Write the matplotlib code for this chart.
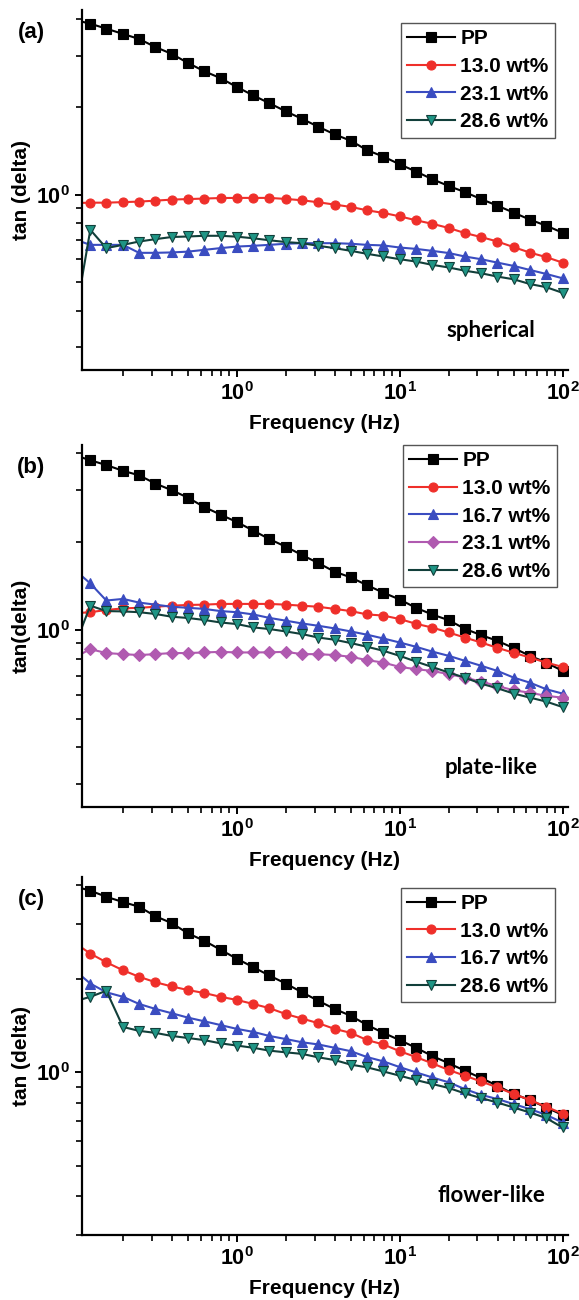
import matplotlib
matplotlib.use('Agg')
import numpy as np
import matplotlib.pyplot as plt
from matplotlib.ticker import LogLocator, NullFormatter, FuncFormatter

plt.rcParams['font.family'] = ['Liberation Sans', 'DejaVu Sans']
plt.rcParams['font.weight'] = 'bold'
plt.rcParams['mathtext.fontset'] = 'custom'
plt.rcParams['mathtext.rm'] = 'Liberation Sans:bold'
plt.rcParams['mathtext.bf'] = 'Liberation Sans:bold'

freq = [0.1, 0.126, 0.158, 0.2, 0.251, 0.316, 0.398, 0.501, 0.631, 0.794,
        1.0, 1.26, 1.58, 2.0, 2.51, 3.16, 3.98, 5.01, 6.31, 7.94,
        10.0, 12.6, 15.8, 20.0, 25.1, 31.6, 39.8, 50.1, 63.1, 79.4, 100.0]

# (a) spherical filler
sph_pp = [3.98, 3.86, 3.71, 3.56, 3.42, 3.21, 3.04, 2.83, 2.65, 2.51, 2.34,
          2.19, 2.06, 1.93, 1.82, 1.71, 1.61, 1.53, 1.42, 1.35, 1.27,
          1.20, 1.13, 1.07, 1.02, 0.965, 0.916, 0.867, 0.820, 0.782, 0.740]
sph_130 = [0.935, 0.938, 0.938, 0.942, 0.946, 0.953, 0.961, 0.965, 0.969, 0.973, 0.974,
           0.974, 0.974, 0.966, 0.956, 0.941, 0.924, 0.907, 0.883, 0.865, 0.842,
           0.816, 0.794, 0.768, 0.738, 0.715, 0.690, 0.660, 0.632, 0.610, 0.584]
sph_231 = [0.703, 0.672, 0.672, 0.672, 0.631, 0.631, 0.633, 0.637, 0.646, 0.655, 0.663,
           0.667, 0.672, 0.678, 0.681, 0.681, 0.681, 0.678, 0.672, 0.669, 0.658,
           0.651, 0.641, 0.630, 0.613, 0.600, 0.584, 0.569, 0.551, 0.534, 0.516]
sph_286 = [0.357, 0.757, 0.655, 0.672, 0.690, 0.703, 0.715, 0.718, 0.722, 0.722, 0.717,
           0.708, 0.697, 0.687, 0.681, 0.667, 0.655, 0.641, 0.626, 0.613, 0.600,
           0.589, 0.574, 0.562, 0.548, 0.537, 0.523, 0.512, 0.493, 0.481, 0.460]

# (b) plate-like filler
pla_pp = [3.94, 3.78, 3.64, 3.48, 3.36, 3.15, 2.99, 2.82, 2.62, 2.47, 2.33,
          2.18, 2.04, 1.92, 1.80, 1.69, 1.58, 1.51, 1.42, 1.34, 1.27,
          1.19, 1.13, 1.08, 1.01, 0.961, 0.919, 0.868, 0.817, 0.775, 0.726]
pla_130 = [1.14, 1.15, 1.17, 1.185, 1.19, 1.20, 1.21, 1.217, 1.22, 1.227, 1.227,
           1.227, 1.227, 1.22, 1.21, 1.20, 1.18, 1.16, 1.13, 1.12, 1.09,
           1.05, 1.02, 0.981, 0.943, 0.907, 0.870, 0.837, 0.806, 0.775, 0.749]
pla_167 = [1.61, 1.44, 1.26, 1.276, 1.24, 1.22, 1.20, 1.19, 1.18, 1.16, 1.15,
           1.13, 1.10, 1.076, 1.053, 1.034, 1.013, 0.989, 0.964, 0.936, 0.907,
           0.877, 0.845, 0.817, 0.786, 0.756, 0.726, 0.689, 0.662, 0.629, 0.608]
pla_231 = [0.805, 0.861, 0.835, 0.828, 0.822, 0.828, 0.835, 0.835, 0.839, 0.843, 0.839,
           0.839, 0.840, 0.843, 0.828, 0.828, 0.822, 0.811, 0.790, 0.775, 0.749,
           0.736, 0.726, 0.708, 0.689, 0.668, 0.645, 0.624, 0.612, 0.597, 0.589]
pla_286 = [0.871, 1.21, 1.16, 1.157, 1.15, 1.134, 1.11, 1.099, 1.082, 1.061, 1.048,
           1.021, 1.008, 0.989, 0.969, 0.943, 0.927, 0.903, 0.877, 0.850, 0.817,
           0.781, 0.749, 0.717, 0.689, 0.657, 0.634, 0.608, 0.589, 0.571, 0.547]

# (c) flower-like filler
flo_pp = [3.97, 3.84, 3.67, 3.53, 3.41, 3.18, 3.02, 2.80, 2.65, 2.48, 2.32,
          2.18, 2.05, 1.93, 1.81, 1.70, 1.60, 1.52, 1.42, 1.34, 1.27,
          1.20, 1.13, 1.07, 1.013, 0.959, 0.906, 0.852, 0.815, 0.771, 0.730]
flo_130 = [2.62, 2.41, 2.26, 2.13, 2.03, 1.95, 1.89, 1.84, 1.80, 1.75, 1.71,
           1.66, 1.61, 1.54, 1.49, 1.44, 1.38, 1.34, 1.27, 1.23, 1.17,
           1.12, 1.07, 1.018, 0.976, 0.935, 0.895, 0.852, 0.815, 0.775, 0.737]
flo_167 = [2.14, 1.93, 1.81, 1.75, 1.66, 1.60, 1.55, 1.50, 1.46, 1.42, 1.38,
           1.35, 1.31, 1.28, 1.25, 1.23, 1.20, 1.17, 1.12, 1.085, 1.04,
           1.00, 0.964, 0.929, 0.884, 0.847, 0.821, 0.791, 0.762, 0.730, 0.690]
flo_286 = [1.69, 1.75, 1.83, 1.40, 1.36, 1.34, 1.31, 1.29, 1.27, 1.24, 1.22,
           1.20, 1.175, 1.16, 1.147, 1.118, 1.096, 1.059, 1.038, 1.007, 0.976,
           0.945, 0.918, 0.891, 0.856, 0.827, 0.800, 0.771, 0.743, 0.713, 0.665]

styles = {
    'PP':       dict(color='black', marker='s', mfc='black', mec='black'),
    '13.0 wt%': dict(color='#ef2f2a', marker='o', mfc='#ef2f2a', mec='#ef2f2a'),
    '16.7 wt%': dict(color='#3a4cc0', marker='^', mfc='#3a4cc0', mec='#3a4cc0'),
    '23.1 wt%': dict(color='#3a4cc0', marker='^', mfc='#3a4cc0', mec='#3a4cc0'),
    '28.6 wt%': dict(color='#123f3a', marker='v', mfc='#1f9585', mec='#123f3a'),
}
purple = dict(color='#b05ab0', marker='D', mfc='#b05ab0', mec='#b05ab0')

panels = [
    dict(tag='(a)', shape='spherical', ylim=(0.25, 4.3), ylab='tan (delta)',
         rect=[0.1416, 0.7154, 0.8394, 0.2769], leg=(0.973, 0.964),
         series=[('PP', sph_pp, styles['PP']),
                 ('13.0 wt%', sph_130, styles['13.0 wt%']),
                 ('23.1 wt%', sph_231, styles['23.1 wt%']),
                 ('28.6 wt%', sph_286, styles['28.6 wt%'])]),
    dict(tag='(b)', shape='plate-like', ylim=(0.25, 4.26), ylab='tan(delta)',
         rect=[0.1416, 0.3792, 0.8394, 0.2785], leg=(0.977, 1.0),
         series=[('PP', pla_pp, styles['PP']),
                 ('13.0 wt%', pla_130, styles['13.0 wt%']),
                 ('16.7 wt%', pla_167, styles['16.7 wt%']),
                 ('23.1 wt%', pla_231, purple),
                 ('28.6 wt%', pla_286, styles['28.6 wt%'])]),
    dict(tag='(c)', shape='flower-like', ylim=(0.3, 4.25), ylab='tan (delta)',
         rect=[0.1416, 0.05, 0.8394, 0.2754], leg=(0.973, 0.970),
         series=[('PP', flo_pp, styles['PP']),
                 ('13.0 wt%', flo_130, styles['13.0 wt%']),
                 ('16.7 wt%', flo_167, styles['16.7 wt%']),
                 ('28.6 wt%', flo_286, styles['28.6 wt%'])]),
]

pow_fmt = FuncFormatter(lambda v, p: r'$\mathbf{10^{%d}}$' % round(np.log10(v)))

fig = plt.figure(figsize=(5.79, 13.0), dpi=100)

for p in panels:
    ax = fig.add_axes(p['rect'])
    for label, vals, st in p['series']:
        ax.plot(freq, vals, label=label, lw=1.5, ms=6.5, mew=0.8, **st)

    ax.set_xscale('log')
    ax.set_yscale('log')
    ax.set_xlim(0.112, 108)
    ax.set_ylim(*p['ylim'])

    ax.xaxis.set_major_locator(LogLocator(base=10, numticks=10))
    ax.xaxis.set_minor_locator(LogLocator(base=10, subs=np.arange(2, 10), numticks=20))
    ax.yaxis.set_major_locator(LogLocator(base=10, numticks=10))
    ax.yaxis.set_minor_locator(LogLocator(base=10, subs=np.arange(2, 10), numticks=20))
    ax.xaxis.set_major_formatter(pow_fmt)
    ax.yaxis.set_major_formatter(pow_fmt)
    ax.xaxis.set_minor_formatter(NullFormatter())
    ax.yaxis.set_minor_formatter(NullFormatter())

    for side in ['top', 'right']:
        ax.spines[side].set_visible(False)
    for side in ['left', 'bottom']:
        ax.spines[side].set_linewidth(1.6)
    ax.tick_params(which='major', direction='out', length=5, width=1.4, labelsize=15.5, pad=4)
    ax.tick_params(which='minor', direction='out', length=4, width=1.2)

    ax.set_xlabel('Frequency (Hz)', fontsize=15, fontweight='bold')
    ax.set_ylabel(p['ylab'], fontsize=15, fontweight='bold')
    ax.xaxis.set_label_coords(0.5, -0.122)
    ax.yaxis.set_label_coords(-0.105, 0.5)

    ax.text(-0.105, 0.938, p['tag'], transform=ax.transAxes, fontsize=16,
            fontweight='bold', ha='center', va='center')
    ax.text(0.842, 0.11, p['shape'], transform=ax.transAxes, fontsize=16,
            fontweight='bold', family=['Lato', 'DejaVu Sans'], ha='center', va='center')

    leg = ax.legend(loc='upper right', bbox_to_anchor=p['leg'], borderaxespad=0,
                    fontsize=15, numpoints=1, handlelength=2.3, handletextpad=0.25,
                    labelspacing=0.42, borderpad=0.3, fancybox=False, framealpha=1)
    leg.get_frame().set_edgecolor('#555555')
    leg.get_frame().set_linewidth(1.0)

fig.savefig('out.png', dpi=100)
